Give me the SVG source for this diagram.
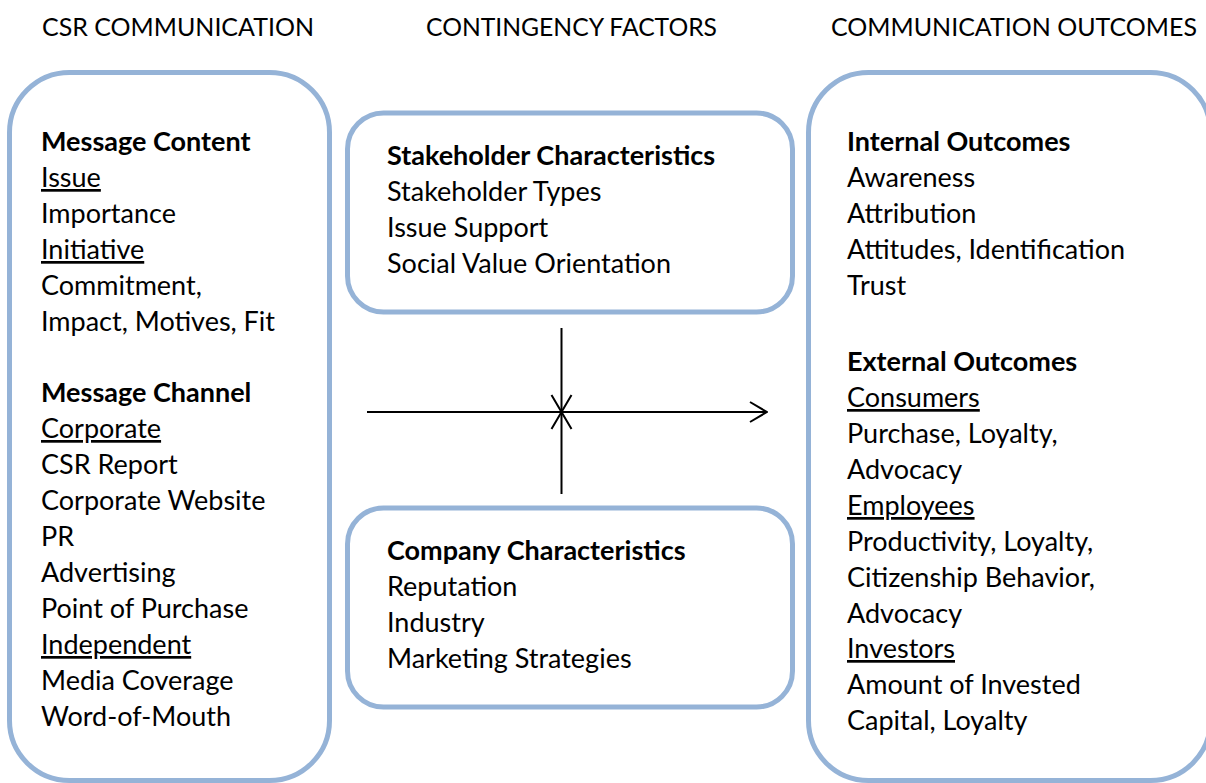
<svg xmlns="http://www.w3.org/2000/svg" width="1206" height="783" viewBox="0 0 1206 783">
<style>
.box{fill:#fff;stroke:#95B3D7;stroke-width:5}
text{font-family:Lato,"Open Sans","Liberation Sans",sans-serif;font-size:27px;fill:#000}
.h{font-size:25px}
.b{font-weight:bold}
.u{text-decoration:underline}
.c{stroke:#000;stroke-width:2;fill:none}
</style>
<defs>
<marker id="ah" viewBox="0 0 20 24" refX="19" refY="12" markerWidth="20" markerHeight="24" markerUnits="userSpaceOnUse" orient="auto">
<path d="M2,2 L19,12 L2,22" fill="none" stroke="#000" stroke-width="2"/>
</marker>
</defs>
<rect width="1206" height="783" fill="#fff"/>
<g id="headers">
<text class="h" x="42" y="36" textLength="272" lengthAdjust="spacingAndGlyphs">CSR COMMUNICATION</text>
<text class="h" x="426" y="36" textLength="291" lengthAdjust="spacingAndGlyphs">CONTINGENCY FACTORS</text>
<text class="h" x="831" y="36" textLength="366" lengthAdjust="spacingAndGlyphs">COMMUNICATION OUTCOMES</text>
</g>
<g id="csr-communication">
<rect class="box" x="9.5" y="72.5" width="320" height="708" rx="60"/>
<text x="41" y="151" class="b">Message Content</text>
<text x="41" y="187" class="u">Issue</text>
<text x="41" y="223">Importance</text>
<text x="41" y="259" class="u">Initiative</text>
<text x="41" y="295">Commitment,</text>
<text x="41" y="331">Impact, Motives, Fit</text>
<text x="41" y="402" class="b">Message Channel</text>
<text x="41" y="438" class="u">Corporate</text>
<text x="41" y="474">CSR Report</text>
<text x="41" y="510">Corporate Website</text>
<text x="41" y="546">PR</text>
<text x="41" y="582">Advertising</text>
<text x="41" y="618">Point of Purchase</text>
<text x="41" y="654" class="u">Independent</text>
<text x="41" y="690">Media Coverage</text>
<text x="41" y="726">Word-of-Mouth</text>
</g>
<g id="stakeholder-characteristics">
<rect class="box" x="347.5" y="113" width="445" height="199" rx="36"/>
<text x="387" y="165" class="b">Stakeholder Characteristics</text>
<text x="387" y="201">Stakeholder Types</text>
<text x="387" y="237">Issue Support</text>
<text x="387" y="273">Social Value Orientation</text>
</g>
<g id="company-characteristics">
<rect class="box" x="347.5" y="508" width="445" height="199" rx="36"/>
<text x="387" y="560" class="b">Company Characteristics</text>
<text x="387" y="596">Reputation</text>
<text x="387" y="632">Industry</text>
<text x="387" y="668">Marketing Strategies</text>
</g>
<g id="communication-outcomes">
<rect class="box" x="808.5" y="72.5" width="402" height="708" rx="60"/>
<text x="847" y="151" class="b">Internal Outcomes</text>
<text x="847" y="187">Awareness</text>
<text x="847" y="223">Attribution</text>
<text x="847" y="259">Attitudes, Identification</text>
<text x="847" y="295">Trust</text>
<text x="847" y="371" class="b">External Outcomes</text>
<text x="847" y="407" class="u">Consumers</text>
<text x="847" y="443">Purchase, Loyalty,</text>
<text x="847" y="479">Advocacy</text>
<text x="847" y="515" class="u">Employees</text>
<text x="847" y="551">Productivity, Loyalty,</text>
<text x="847" y="587">Citizenship Behavior,</text>
<text x="847" y="623">Advocacy</text>
<text x="847" y="658" class="u">Investors</text>
<text x="847" y="694">Amount of Invested</text>
<text x="847" y="730">Capital, Loyalty</text>
</g>
<g id="connectors">
<line class="c" x1="367" y1="412" x2="767" y2="412" marker-end="url(#ah)"/>
<line class="c" x1="561.5" y1="328" x2="561.5" y2="412" marker-end="url(#ah)"/>
<line class="c" x1="561.5" y1="494" x2="561.5" y2="412" marker-end="url(#ah)"/>
</g>
</svg>
